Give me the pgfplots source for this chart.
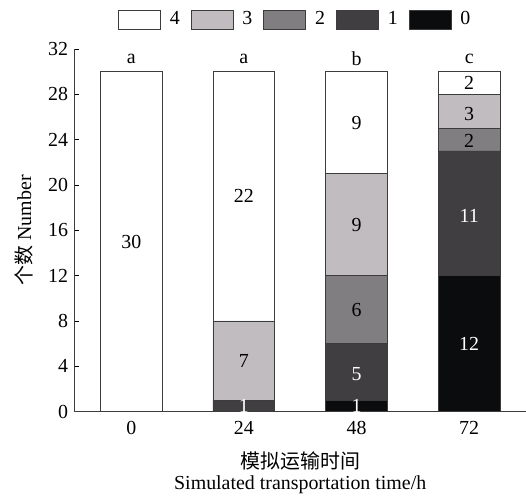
\documentclass[border=0pt]{standalone}
\usepackage{pgfplots}
\pgfplotsset{compat=1.18}
\usepackage{fontspec}
\setmainfont{Liberation Serif}
\newfontfamily\cjk{Noto Sans CJK SC}

\definecolor{c4}{RGB}{255,255,255}
\definecolor{c3}{RGB}{192,188,192}
\definecolor{c2}{RGB}{128,126,128}
\definecolor{c1}{RGB}{64,62,64}
\definecolor{c0}{RGB}{10,12,14}
\definecolor{edge}{RGB}{60,60,60}

\pgfplotsset{frame/.style={
    scale only axis,
    width=451bp, height=363bp,
    xmin=-0.5, xmax=3.5,
    ymin=0, ymax=32}}

\begin{document}
\fontsize{20}{24}\selectfont
\begin{tikzpicture}
\begin{axis}[
    frame,
    ybar stacked,
    bar width=62bp,
    ytick={0,4,...,32},
    xtick={0,1,2,3},
    xticklabels={0,24,48,72},
    axis x line=bottom,
    axis y line=left,
    axis line style={-, line width=1bp, edge},
    major tick length=4bp,
    ytick style={line width=0.8bp, black},
    xtick style={draw=none},
    tick align=inside,
    ticklabel style={font=\fontsize{20}{24}\selectfont},
    xticklabel style={yshift=-3bp},
    /pgf/number format/assume math mode=true,
    xlabel={{\cjk 模拟运输时间}\\[-3bp]Simulated transportation time/h},
    ylabel={{\cjk 个数} Number},
    xlabel style={align=center, yshift=-3bp},
    ylabel style={yshift=2bp},
    legend columns=5,
    legend style={at={(0.5,1)}, anchor=south, xshift=-5bp, yshift=19bp, draw=none,
        fill=none, inner sep=0pt, font=\fontsize{20}{24}\selectfont,
        /tikz/every odd column/.append style={column sep=7bp},
        /tikz/every even column/.append style={column sep=9bp}},
    legend image code/.code={\draw[#1, draw=edge, line width=0.8bp] (0bp,-9.5bp) rectangle (42bp,9.5bp);},
    every axis plot/.append style={draw=edge, line width=0.8bp},
]
\addlegendimage{fill=c4}
\addlegendimage{fill=c3}
\addlegendimage{fill=c2}
\addlegendimage{fill=c1}
\addlegendimage{fill=c0}
\legend{4,3,2,1,0}

\addplot[fill=c0, forget plot] coordinates {(0,0) (1,0) (2,1) (3,12)};
\addplot[fill=c1, forget plot] coordinates {(0,0) (1,1) (2,5) (3,11)};
\addplot[fill=c2, forget plot] coordinates {(0,0) (1,0) (2,6) (3,2)};
\addplot[fill=c3, forget plot] coordinates {(0,0) (1,7) (2,9) (3,3)};
\addplot[fill=c4, forget plot] coordinates {(0,30) (1,22) (2,9) (3,2)};
\end{axis}

% overlay axis for the labels, drawn on top of the stacked bars
\begin{axis}[frame, hide axis, clip=false]
\node at (axis cs:0,15) {30};
\node[white] at (axis cs:1,0.5) {1};
\node at (axis cs:1,4.5) {7};
\node at (axis cs:1,19) {22};
\node[white] at (axis cs:2,0.5) {1};
\node[white] at (axis cs:2,3.3) {5};
\node at (axis cs:2,9) {6};
\node at (axis cs:2,16.5) {9};
\node at (axis cs:2,25.5) {9};
\node[white] at (axis cs:3,6) {12};
\node[white] at (axis cs:3,17.3) {11};
\node at (axis cs:3,29) {2};
\node at (axis cs:3,26.3) {3};
\node at (axis cs:3,23.9) {2};
% significance letters
\node at (axis cs:0,31.1) {a};
\node at (axis cs:1,31.1) {a};
\node at (axis cs:2,31.1) {b};
\node at (axis cs:3,31.1) {c};
\end{axis}
\path (current axis.south west) ++(-75bp,-82bp) -- (current axis.north west) -- ++(0,49bp);
\end{tikzpicture}
\end{document}
